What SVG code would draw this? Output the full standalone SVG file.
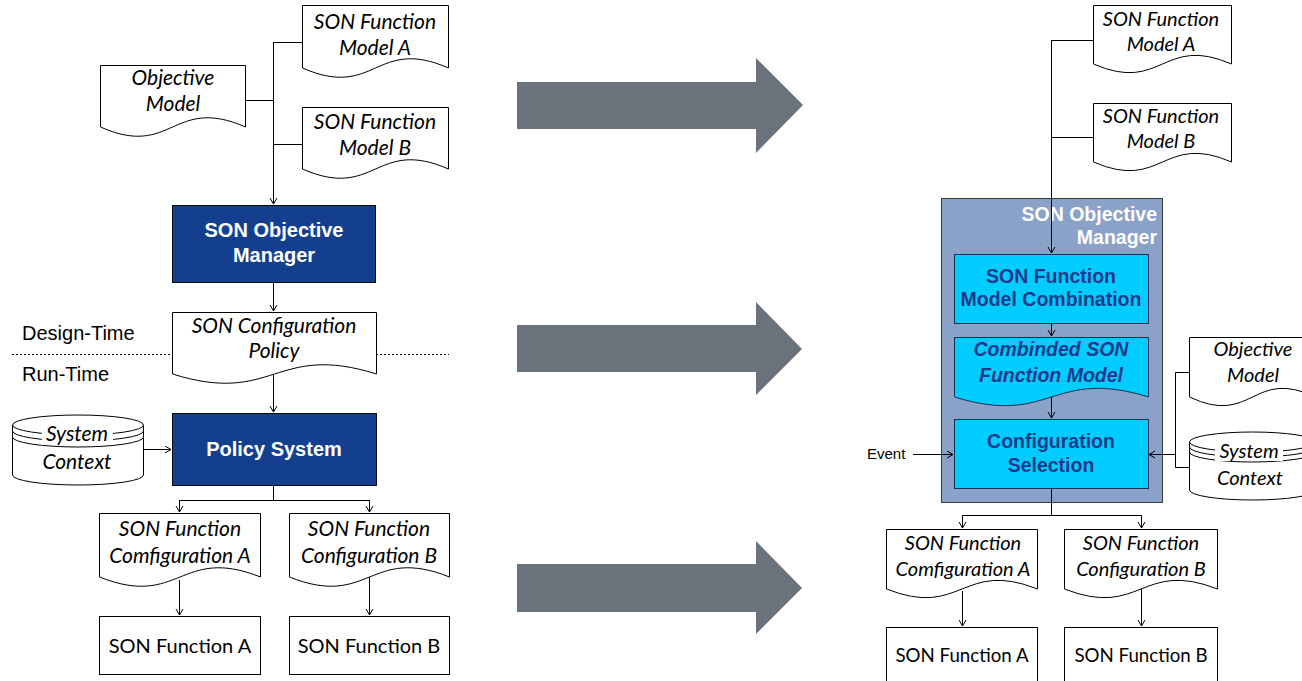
<svg xmlns="http://www.w3.org/2000/svg" width="1302" height="681" viewBox="0 0 1302 681">
  <style>
    .doc { fill: #fff; stroke: #000; stroke-width: 1; }
    .box { fill: #fff; stroke: #000; stroke-width: 1; }
    .dark { fill: #143f8e; stroke: #0a0a0a; stroke-width: 1; }
    .cyan { fill: #00ccff; stroke: #1b2f55; stroke-width: 1; }
    .frame { fill: #8aa1c8; stroke: #3a3a3a; stroke-width: 1; }
    .big { fill: #6a727c; }
    .it { font-family: Lato, "Liberation Sans", sans-serif; font-style: italic; font-size: 21px; fill: #000; text-anchor: middle; }
    .itR { font-size: 20px; }
    .reg { font-family: Lato, "Liberation Sans", sans-serif; font-size: 20px; fill: #000; text-anchor: middle; }
    .regR { font-size: 18.7px; }
    .bw { font-family: "Liberation Sans", Arial, sans-serif; font-weight: bold; font-size: 20px; fill: #fff; text-anchor: middle; }
    .bb { font-family: "Liberation Sans", Arial, sans-serif; font-weight: bold; font-size: 19.5px; fill: #1b3a8a; text-anchor: middle; }
    .bbi { font-style: italic; }
    .lbl { font-family: "Liberation Sans", Arial, sans-serif; font-size: 20px; fill: #000; }
    .conn line, .conn polyline { stroke: #000; stroke-width: 1; fill: none; }
    .sep { stroke: #000; stroke-width: 1.2; stroke-dasharray: 2 2; }
  </style>
  <defs>
    <marker id="arr" markerWidth="10" markerHeight="10" refX="7" refY="4" orient="auto" markerUnits="userSpaceOnUse">
      <path d="M1,0.5 L7,4 L1,7.5" fill="none" stroke="#000" stroke-width="1"/>
    </marker>
  </defs>

  <!-- transition arrows -->
  <g id="bigArrows">
    <polygon class="big" points="517,82 756,82 756,58 803,105 756,153 756,129 517,129"/>
    <polygon class="big" points="517,325 756,325 756,302 802,349 756,395 756,372 517,372"/>
    <polygon class="big" points="517,564 756,564 756,541 802,588 756,634 756,612 517,612"/>
  </g>

  <!-- design-time / run-time separator -->
  <g id="phase">
    <line class="sep" x1="12" y1="354.5" x2="172" y2="354.5"/>
    <line class="sep" x1="376" y1="354.5" x2="449" y2="354.5"/>
    <text class="lbl" x="22" y="340">Design-Time</text>
    <text class="lbl" x="22" y="381">Run-Time</text>
  </g>

  <!-- ===== left: design-time / run-time chain ===== -->
  <g id="modelA_left">
    <path class="doc" d="M302.5,5.5 H448.5 V68 C375.5,36 375.5,100 302.5,68 Z"/>
    <text class="it" x="375" y="29">SON Function</text>
    <text class="it" x="375" y="55">Model A</text>
  </g>
  <g id="objectiveModel_left">
    <path class="doc" d="M100.5,65.5 H245.5 V127 C172.5,95 172.5,159 100.5,127 Z"/>
    <text class="it" x="173" y="85">Objective</text>
    <text class="it" x="173" y="111">Model</text>
  </g>
  <g id="modelB_left">
    <path class="doc" d="M302.5,107.5 H448.5 V169 C375.5,137 375.5,201 302.5,169 Z"/>
    <text class="it" x="375" y="129">SON Function</text>
    <text class="it" x="375" y="155">Model B</text>
  </g>
  <g id="objectiveManager_left">
    <rect class="dark" x="172.5" y="205.5" width="203" height="77"/>
    <text class="bw" x="274" y="237">SON Objective</text>
    <text class="bw" x="274" y="262">Manager</text>
  </g>
  <g id="configPolicy">
    <path class="doc" d="M172.5,312.5 H376.5 V374 C274.5,342 274.5,406 172.5,374 Z"/>
    <text class="it" x="274" y="333">SON Configuration</text>
    <text class="it" x="274" y="358">Policy</text>
  </g>
  <g id="systemContext_left">
    <path class="doc" d="M12.5,425 A65.5,10 0 0 1 143.5,425 V475 A65.5,10 0 0 1 12.5,475 Z"/>
    <path class="doc" fill="none" d="M12.5,425 A65.5,10 0 0 0 143.5,425 M12.5,431 A65.5,10 0 0 0 143.5,431 M12.5,437 A65.5,10 0 0 0 143.5,437"/>
    <rect x="42" y="425" width="71" height="20" fill="#fff"/>
    <text class="it" x="77" y="441">System</text>
    <text class="it" x="77" y="469">Context</text>
  </g>
  <g id="policySystem">
    <rect class="dark" x="172.5" y="413.5" width="204" height="72"/>
    <text class="bw" x="274" y="456">Policy System</text>
  </g>
  <g id="configA_left">
    <path class="doc" d="M99.5,513.5 H260.5 V577 C180,545 180,609 99.5,577 Z"/>
    <text class="it" x="180" y="536">SON Function</text>
    <text class="it" x="180" y="563">Comfiguration A</text>
  </g>
  <g id="configB_left">
    <path class="doc" d="M289.5,513.5 H449.5 V577 C369.5,545 369.5,609 289.5,577 Z"/>
    <text class="it" x="369" y="536">SON Function</text>
    <text class="it" x="369" y="563">Configuration B</text>
  </g>
  <g id="functionA_left">
    <rect class="box" x="99.5" y="616.5" width="161" height="58"/>
    <text class="reg" x="180" y="653">SON Function A</text>
  </g>
  <g id="functionB_left">
    <rect class="box" x="289.5" y="616.5" width="160" height="58"/>
    <text class="reg" x="369" y="653">SON Function B</text>
  </g>

  <!-- ===== right: run-time objective manager ===== -->
  <g id="modelA_right">
    <path class="doc" d="M1093.5,5.5 H1231.5 V64 C1162.5,34 1162.5,94 1093.5,64 Z"/>
    <text class="it itR" x="1161" y="26">SON Function</text>
    <text class="it itR" x="1161" y="51">Model A</text>
  </g>
  <g id="modelB_right">
    <path class="doc" d="M1093.5,103.5 H1231.5 V162 C1162.5,132 1162.5,192 1093.5,162 Z"/>
    <text class="it itR" x="1161" y="123">SON Function</text>
    <text class="it itR" x="1161" y="148">Model B</text>
  </g>
  <g id="objectiveManager_right">
    <rect class="frame" x="941.5" y="198.5" width="221" height="304"/>
    <text class="bw" style="font-size:19.5px;text-anchor:end" x="1157" y="221">SON Objective</text>
    <text class="bw" style="font-size:19.5px;text-anchor:end" x="1157" y="244">Manager</text>
  </g>
  <g id="modelCombination">
    <rect class="cyan" x="954.5" y="254.5" width="194" height="69"/>
    <text class="bb" x="1051" y="283">SON Function</text>
    <text class="bb" x="1051" y="306">Model Combination</text>
  </g>
  <g id="combinedModel">
    <path class="cyan" d="M954.5,337.5 H1148.5 V397 C1051.5,367 1051.5,427 954.5,397 Z"/>
    <text class="bb bbi" x="1051" y="356">Combinded SON</text>
    <text class="bb bbi" x="1051" y="382">Function Model</text>
  </g>
  <g id="configSelection">
    <rect class="cyan" x="954.5" y="419.5" width="194" height="69"/>
    <text class="bb" x="1051" y="448">Configuration</text>
    <text class="bb" x="1051" y="472">Selection</text>
  </g>
  <g id="event">
    <text class="lbl" style="font-size:15px" x="867" y="459">Event</text>
  </g>
  <g id="objectiveModel_right">
    <path class="doc" d="M1189.5,337.5 H1315.5 V397 C1252.5,367 1252.5,427 1189.5,397 Z"/>
    <text class="it itR" x="1253" y="356">Objective</text>
    <text class="it itR" x="1253" y="382">Model</text>
  </g>
  <g id="systemContext_right">
    <path class="doc" d="M1189.5,442 A63,10 0 0 1 1315.5,442 V490 A63,10 0 0 1 1189.5,490 Z"/>
    <path class="doc" fill="none" d="M1189.5,442 A63,10 0 0 0 1315.5,442 M1189.5,447 A63,10 0 0 0 1315.5,447 M1189.5,452 A63,10 0 0 0 1315.5,452"/>
    <rect x="1215" y="441" width="68" height="20" fill="#fff"/>
    <text class="it itR" x="1249" y="458">System</text>
    <text class="it itR" x="1250" y="485">Context</text>
  </g>
  <g id="configA_right">
    <path class="doc" d="M886.5,529.5 H1037.5 V589 C962,559 962,619 886.5,589 Z"/>
    <text class="it itR" x="963" y="550">SON Function</text>
    <text class="it itR" x="963" y="576">Comfiguration A</text>
  </g>
  <g id="configB_right">
    <path class="doc" d="M1064.5,529.5 H1217.5 V589 C1141,559 1141,619 1064.5,589 Z"/>
    <text class="it itR" x="1141" y="550">SON Function</text>
    <text class="it itR" x="1141" y="576">Configuration B</text>
  </g>
  <g id="functionA_right">
    <rect class="box" x="886.5" y="627.5" width="151" height="60"/>
    <text class="reg regR" x="962" y="662">SON Function A</text>
  </g>
  <g id="functionB_right">
    <rect class="box" x="1064.5" y="627.5" width="153" height="60"/>
    <text class="reg regR" x="1141" y="662">SON Function B</text>
  </g>

  <!-- connectors, drawn last so they sit on top of the manager frame -->
  <g class="conn" id="connectors">
    <!-- left: models into manager -->
    <line x1="302" y1="42.5" x2="273.5" y2="42.5"/>
    <line x1="245" y1="100.5" x2="273.5" y2="100.5"/>
    <line x1="302" y1="144.5" x2="273.5" y2="144.5"/>
    <line x1="273.5" y1="42" x2="273.5" y2="204" marker-end="url(#arr)"/>
    <line x1="273.5" y1="282" x2="273.5" y2="311" marker-end="url(#arr)"/>
    <line x1="273.5" y1="375" x2="273.5" y2="412" marker-end="url(#arr)"/>
    <line x1="143" y1="449.5" x2="171" y2="449.5" marker-end="url(#arr)"/>
    <line x1="273.5" y1="485" x2="273.5" y2="500.5"/>
    <line x1="179.5" y1="500.5" x2="369.5" y2="500.5"/>
    <line x1="179.5" y1="500" x2="179.5" y2="512" marker-end="url(#arr)"/>
    <line x1="369.5" y1="500" x2="369.5" y2="512" marker-end="url(#arr)"/>
    <line x1="179.5" y1="580" x2="179.5" y2="615" marker-end="url(#arr)"/>
    <line x1="369.5" y1="577" x2="369.5" y2="615" marker-end="url(#arr)"/>
    <!-- right: models into manager, inputs and outputs -->
    <line x1="1093" y1="40.5" x2="1051.5" y2="40.5"/>
    <line x1="1093" y1="137.5" x2="1051.5" y2="137.5"/>
    <line x1="1051.5" y1="40" x2="1051.5" y2="253" marker-end="url(#arr)"/>
    <line x1="1051.5" y1="323" x2="1051.5" y2="336" marker-end="url(#arr)"/>
    <line x1="1051.5" y1="397" x2="1051.5" y2="418" marker-end="url(#arr)"/>
    <line x1="913" y1="454.5" x2="953" y2="454.5" marker-end="url(#arr)"/>
    <polyline points="1189,372.5 1175.5,372.5 1175.5,467.5 1189,467.5"/>
    <line x1="1175.5" y1="454.5" x2="1149" y2="454.5" marker-end="url(#arr)"/>
    <line x1="1051.5" y1="488" x2="1051.5" y2="515.5"/>
    <line x1="962.5" y1="515.5" x2="1141.5" y2="515.5"/>
    <line x1="962.5" y1="515" x2="962.5" y2="528" marker-end="url(#arr)"/>
    <line x1="1141.5" y1="515" x2="1141.5" y2="528" marker-end="url(#arr)"/>
    <line x1="962.5" y1="591" x2="962.5" y2="626" marker-end="url(#arr)"/>
    <line x1="1141.5" y1="589" x2="1141.5" y2="626" marker-end="url(#arr)"/>
  </g>
</svg>
